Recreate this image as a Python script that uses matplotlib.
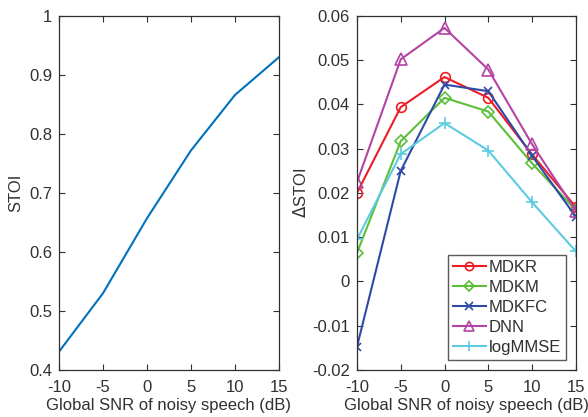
import numpy as np
import matplotlib
matplotlib.use("Agg")
import matplotlib.pyplot as plt

plt.rcParams['font.family'] = ['Liberation Sans', 'DejaVu Sans']

snr = [-10, -5, 0, 5, 10, 15]
stoi_noisy = [0.431, 0.530, 0.657, 0.772, 0.866, 0.930]

methods = ['MDKR', 'MDKM', 'MDKFC', 'DNN', 'logMMSE']
d_mdkr = [0.0200, 0.0394, 0.0462, 0.0415, 0.0287, 0.0168]
d_mdkm = [0.0064, 0.0317, 0.0415, 0.0384, 0.0267, 0.0161]
d_mdkfc = [-0.0148, 0.0250, 0.0445, 0.0430, 0.0284, 0.0146]
d_dnn = [0.0224, 0.0502, 0.0573, 0.0479, 0.0310, 0.0160]
d_logmmse = [0.0095, 0.0288, 0.0358, 0.0296, 0.0179, 0.0068]
delta = [d_mdkr, d_mdkm, d_mdkfc, d_dnn, d_logmmse]

colors = ['#ee1c25', '#5cbf3a', '#2f4aa6', '#b444a4', '#5ccbe0']
markers = ['o', 'D', 'x', '^', '+']
msizes = [7, 6, 6, 8, 8]

txt = '#303030'
fs = 12
fig = plt.figure(figsize=(5.88, 4.17), dpi=100)
ax1 = fig.add_axes([0.1003, 0.1127, 0.374, 0.849])
ax2 = fig.add_axes([0.607, 0.1127, 0.3724, 0.849])

ax1.plot(snr, stoi_noisy, color='#0072bd', lw=1.5)
ax1.set_xlim(-10, 15)
ax1.set_ylim(0.4, 1)
ax1.set_yticks(np.arange(0.4, 1.01, 0.1))
ax1.set_yticklabels(['0.4', '0.5', '0.6', '0.7', '0.8', '0.9', '1'])
ax1.set_ylabel('STOI', color=txt, fontsize=fs, labelpad=4)

for vals, c, m, ms, name in zip(delta, colors, markers, msizes, methods):
    ax2.plot(snr, vals, color=c, marker=m, ms=ms, mfc='none', mec=c,
             mew=1.2, lw=1.5, label=name)
ax2.set_xlim(-10, 15)
ax2.set_ylim(-0.02, 0.06)
ax2.set_yticks(np.arange(-0.02, 0.061, 0.01))
ax2.set_yticklabels(['-0.02', '-0.01', '0', '0.01', '0.02', '0.03', '0.04', '0.05', '0.06'])
ax2.set_ylabel('$\\Delta$STOI', color=txt, fontsize=fs, labelpad=2)
leg = ax2.legend(loc='lower right', fontsize=fs, frameon=True, fancybox=False,
                 handlelength=2.0, handletextpad=0.15, borderpad=0.3,
                 labelspacing=0.3, borderaxespad=0.6, markerscale=0.85)
leg.get_frame().set_edgecolor(txt)
leg.get_frame().set_linewidth(1.0)
for t in leg.get_texts():
    t.set_color(txt)

for ax in (ax1, ax2):
    ax.set_xticks(snr)
    ax.set_xticklabels(['-10', '-5', '0', '5', '10', '15'])
    ax.set_xlabel('Global SNR of noisy speech (dB)', color=txt, fontsize=fs,
                  labelpad=2)
    ax.tick_params(direction='in', top=True, right=True, length=4,
                   colors=txt, labelsize=fs, width=0.8)
    ax.tick_params(axis='x', pad=7)
    ax.tick_params(axis='y', pad=5)
    for s in ax.spines.values():
        s.set_color(txt)
        s.set_linewidth(0.9)

fig.savefig('out.png', dpi=100)
